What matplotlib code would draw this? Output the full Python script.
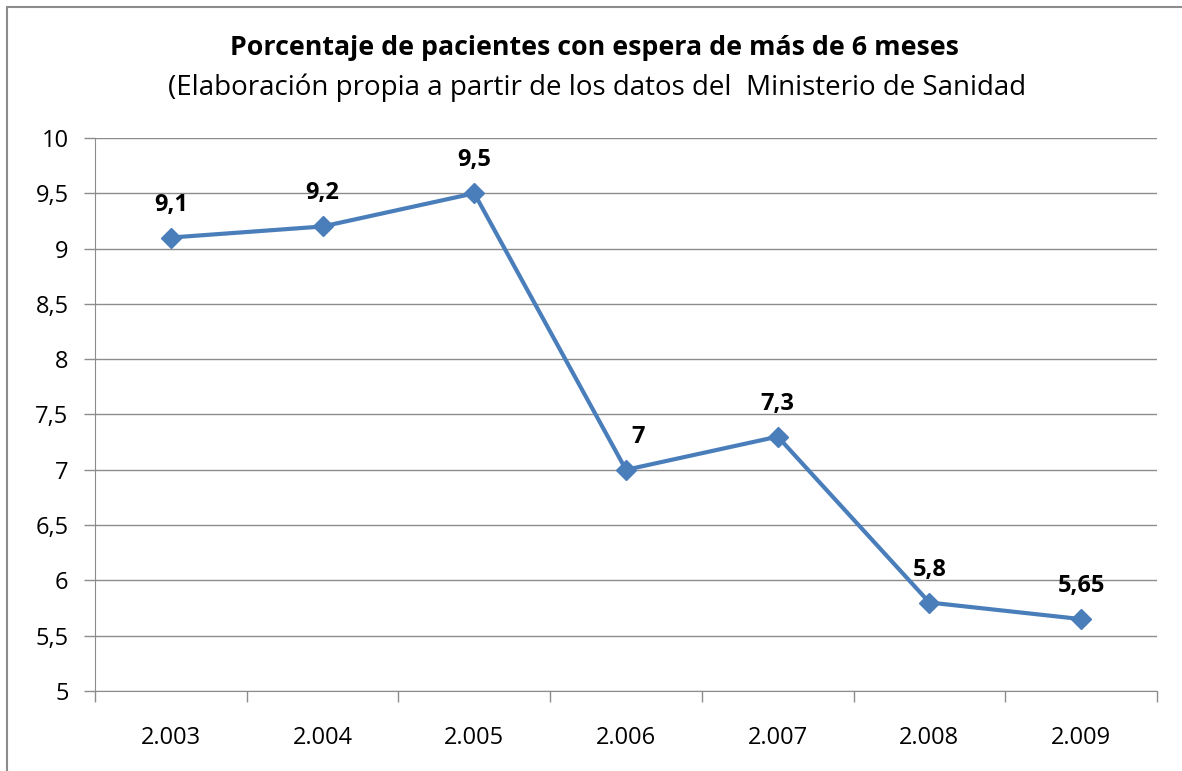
import matplotlib.pyplot as plt
from matplotlib.patches import Rectangle
import numpy as np

plt.rcParams['font.family'] = ['Open Sans', 'DejaVu Sans']

years = ["2.003", "2.004", "2.005", "2.006", "2.007", "2.008", "2.009"]
values = [9.1, 9.2, 9.5, 7.0, 7.3, 5.8, 5.65]
labels = ["9,1", "9,2", "9,5", "7", "7,3", "5,8", "5,65"]
y_ticks = [5, 5.5, 6, 6.5, 7, 7.5, 8, 8.5, 9, 9.5, 10]
y_tick_labels = ["5", "5,5", "6", "6,5", "7", "7,5", "8", "8,5", "9", "9,5", "10"]

line_color = "#4A7EBB"
grid_color = "#8C8C8C"

fig = plt.figure(figsize=(11.82, 7.71), dpi=100)
fig.patches.append(Rectangle((7 / 1182, -0.05), 1.2, (771 - 7) / 771 + 0.05,
                             transform=fig.transFigure, fill=False,
                             edgecolor="#8C8C8C", linewidth=1.5))

ax = fig.add_axes([95 / 1182, 1 - 691 / 771, (1157 - 95) / 1182, (691 - 138) / 771])
x = np.arange(len(years))

ax.plot(x, values, color=line_color, linewidth=3, marker="D", markersize=10,
        markerfacecolor=line_color, markeredgecolor=line_color, zorder=3)

for i, (xi, v, lab) in enumerate(zip(x, values, labels)):
    dx = 12 if i == 3 else 0
    ax.annotate(lab, (xi, v), xytext=(dx, 21), textcoords="offset pixels",
                ha="center", va="bottom", fontsize=17, fontweight="bold",
                color="black")

ax.set_xlim(-0.5, len(years) - 0.5)
ax.set_ylim(5, 10)
ax.set_yticks(y_ticks)
ax.set_yticklabels(y_tick_labels)
ax.set_xticks(x)
ax.set_xticklabels(years)
ax.set_xticks(np.arange(-0.5, len(years)), minor=True)
ax.tick_params(axis="x", which="major", length=0, pad=25, labelsize=17)
ax.tick_params(axis="x", which="minor", length=8, color=grid_color, width=1)
ax.tick_params(axis="y", length=8, color=grid_color, width=1, pad=11, labelsize=17)

ax.yaxis.grid(True, color=grid_color, linewidth=1)
ax.set_axisbelow(True)
for side in ["top", "right"]:
    ax.spines[side].set_visible(False)
for side in ["left", "bottom"]:
    ax.spines[side].set_color(grid_color)

fig.text(0.503, 1 - 48 / 771, "Porcentaje de pacientes con espera de más de 6 meses",
         ha="center", va="center", fontsize=19.3, fontweight="bold")
fig.text(0.505, 1 - 88 / 771, "(Elaboración propia a partir de los datos del  Ministerio de Sanidad",
         ha="center", va="center", fontsize=20)

fig.savefig("out.png", dpi=100)
